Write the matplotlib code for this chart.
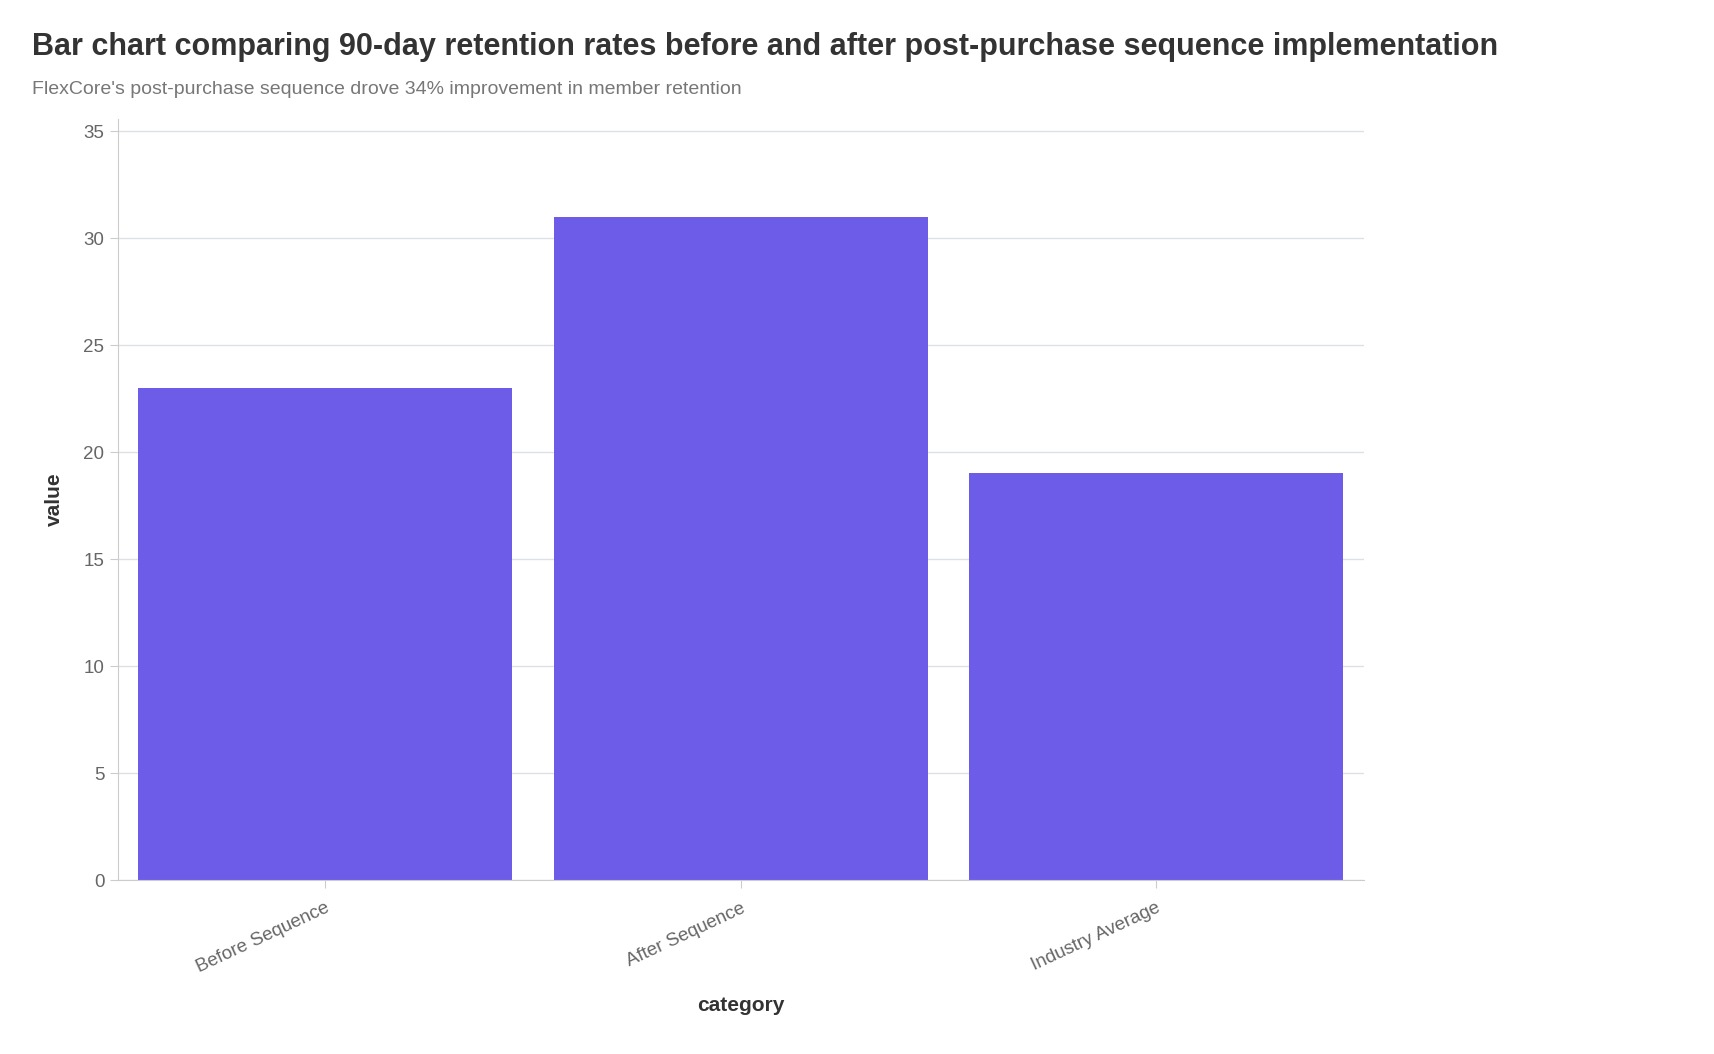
import matplotlib
matplotlib.use("Agg")
import matplotlib.pyplot as plt

plt.rcParams['font.family'] = ['Liberation Sans', 'DejaVu Sans']

categories = ["Before Sequence", "After Sequence", "Industry Average"]
values = [23, 31, 19]
yticks = [0, 5, 10, 15, 20, 25, 30, 35]

fig = plt.figure(figsize=(17.14, 10.54), dpi=100)
ax = fig.add_axes([0.0686, 0.165, 0.727, 0.722])
ax.bar(range(len(categories)), values, width=0.9, color="#6C5CE7", zorder=2)
ax.set_xlim(-0.5, 2.5)
ax.set_ylim(0, 35.56)
ax.set_yticks(yticks)
ax.set_xticks(range(len(categories)))
ax.set_xticklabels(categories, rotation=25, ha="right", rotation_mode="anchor", color="#666666", fontsize=13.5)
ax.tick_params(axis='y', labelcolor="#666666", labelsize=13.5, color="#cccccc", length=6)
ax.tick_params(axis='x', color="#cccccc", length=6, pad=8)
for lbl in ax.get_xticklabels():
    lbl.set_x(lbl.get_position()[0])
ax.grid(axis='y', color="#dde1e6", linewidth=1, zorder=0)
for s in ["top", "right"]:
    ax.spines[s].set_visible(False)
for s in ["left", "bottom"]:
    ax.spines[s].set_color("#cccccc")
ax.set_xlabel("category", fontsize=15, fontweight="bold", color="#333333", labelpad=14)
ax.set_ylabel("value", fontsize=15, fontweight="bold", color="#333333", labelpad=14)

fig.text(0.0186, 0.955, "Bar chart comparing 90-day retention rates before and after post-purchase sequence implementation",
         fontsize=22, fontweight="bold", color="#333333", va="center")
fig.text(0.0186, 0.915, "FlexCore's post-purchase sequence drove 34% improvement in member retention",
         fontsize=14, color="#777777", va="center")
fig.savefig("out.png", dpi=100, facecolor="white")
